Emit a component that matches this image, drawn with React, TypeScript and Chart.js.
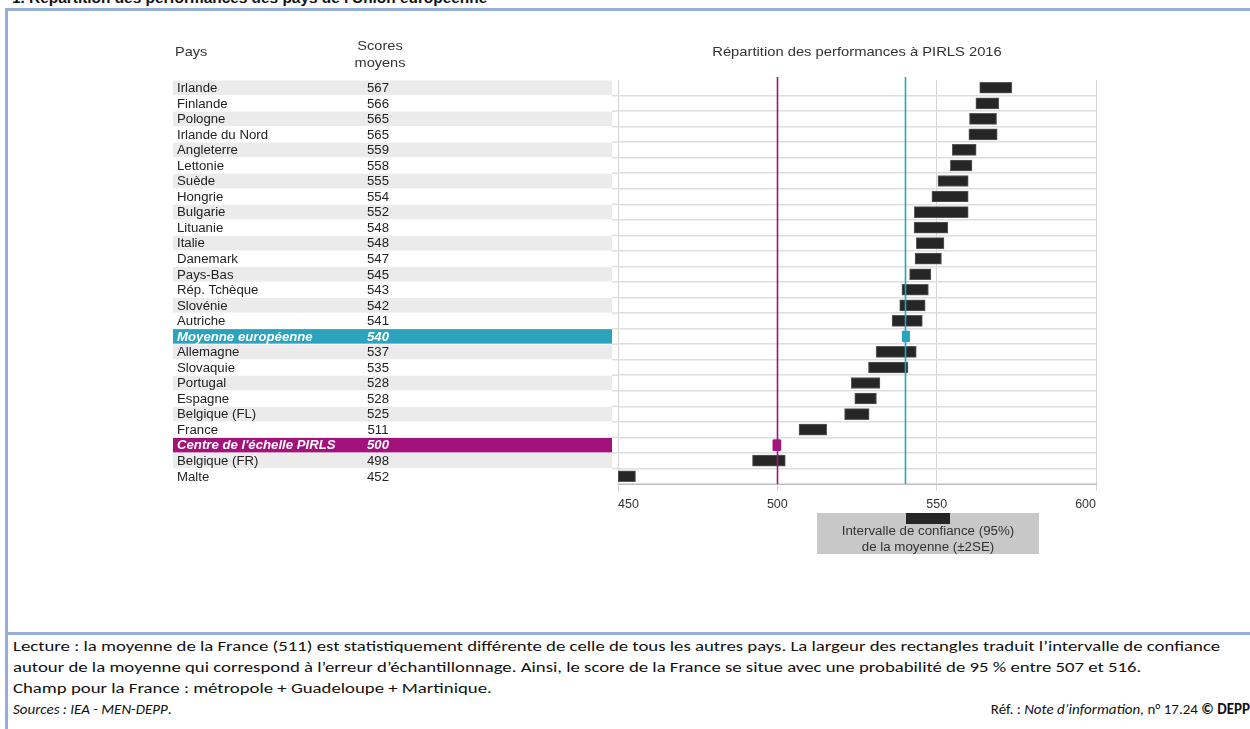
import React, { useEffect, useRef } from 'react';
import { Chart, registerables } from 'chart.js';

Chart.register(...registerables);

// ---- Data ----
const countries = [
  'Irlande', 'Finlande', 'Pologne', 'Irlande du Nord', 'Angleterre', 'Lettonie', 'Suède', 'Hongrie',
  'Bulgarie', 'Lituanie', 'Italie', 'Danemark', 'Pays-Bas', 'Rép. Tchèque', 'Slovénie', 'Autriche',
  'Moyenne européenne', 'Allemagne', 'Slovaquie', 'Portugal', 'Espagne', 'Belgique (FL)', 'France',
  "Centre de l'échelle PIRLS", 'Belgique (FR)', 'Malte',
];
const scores = [567, 566, 565, 565, 559, 558, 555, 554, 552, 548, 548, 547, 545, 543, 542, 541, 540, 537, 535, 528, 528, 525, 511, 500, 498, 452];
const ciLow = [563.5, 562.3, 560.3, 560.1, 554.9, 554.3, 550.4, 548.5, 543.0, 542.9, 543.6, 543.2, 541.5, 539.1, 538.4, 536.0, 539.4, 531.0, 528.6, 523.2, 524.3, 521.1, 506.8, 498.8, 492.2, 450];
const ciHigh = [573.6, 569.5, 568.8, 569.0, 562.4, 561.1, 559.9, 559.9, 559.9, 553.5, 552.3, 551.5, 548.2, 547.4, 546.4, 545.5, 541.3, 543.6, 541.0, 532.2, 531.1, 528.8, 515.5, 500.9, 502.5, 455.5];
// row kind: '' = country, 'eu' = European mean, 'pirls' = PIRLS scale centre
const rowKinds = ['', '', '', '', '', '', '', '', '', '', '', '', '', '', '', '', 'eu', '', '', '', '', '', '', 'pirls', '', ''];
const refValues = [500, 540];
const refKinds = ['pirls', 'eu'];
const xTicks = [450, 500, 550, 600];

// ---- Styles ----
const COLORS: Record<string, string> = { '': '#262626', eu: '#2BA3BC', pirls: '#A3117B' };
const FONT = '"Liberation Sans", Arial, Helvetica, sans-serif';
const BORDER = '#95B0D4';

function txt(ctx: CanvasRenderingContext2D, s: string, x: number, y: number, align: CanvasTextAlign, sx: number) {
  ctx.save();
  ctx.translate(x, y);
  ctx.scale(sx, 1);
  ctx.textAlign = align;
  ctx.fillText(s, 0, 0);
  ctx.restore();
}

const tablePlugin = {
  id: 'tablePlugin',
  beforeDraw(chart: any) {
    const { ctx, chartArea } = chart;
    const y = chart.scales.y;
    const band = y.getPixelForValue(1) - y.getPixelForValue(0);
    ctx.save();
    // headers
    ctx.fillStyle = '#333';
    ctx.font = `13px ${FONT}`;
    ctx.textBaseline = 'middle';
    txt(ctx, 'Pays', 175, 52, 'left', 1.12);
    txt(ctx, 'Scores', 380, 46, 'center', 1.12);
    txt(ctx, 'moyens', 380, 63, 'center', 1.12);
    txt(ctx, 'Répartition des performances à PIRLS 2016', 857, 52, 'center', 1.135);

    // rows
    let plain = 0;
    countries.forEach((name, i) => {
      const cy = y.getPixelForValue(i);
      const kind = rowKinds[i];
      let fill: string | null = null;
      if (kind) fill = COLORS[kind];
      else {
        if (plain % 2 === 0) fill = '#EBEBEB';
        plain++;
      }
      if (fill) {
        ctx.fillStyle = fill;
        ctx.fillRect(173, cy - band / 2 + 0.5, 439, band - 1);
      }
      ctx.fillStyle = kind ? '#FFFFFF' : '#222';
      ctx.font = kind ? `italic bold 12px ${FONT}` : `12px ${FONT}`;
      txt(ctx, name, 177, cy + 1, 'left', 1.1);
      txt(ctx, String(scores[i]), 378, cy + 1, 'center', 1.1);
      // short extension of the row separator towards the table
      if (i > 0) {
        ctx.strokeStyle = '#DEDEDE';
        ctx.lineWidth = 1.5;
        ctx.beginPath();
        ctx.moveTo(612, cy - band / 2);
        ctx.lineTo(chartArea.left, cy - band / 2);
        ctx.stroke();
      }
    });

    // legend box
    ctx.fillStyle = '#C8C8C8';
    ctx.fillRect(817, 513, 222, 41);
    ctx.fillStyle = '#262626';
    ctx.fillRect(906, 513, 44, 11);
    ctx.fillStyle = '#333';
    ctx.font = `12px ${FONT}`;
    txt(ctx, 'Intervalle de confiance (95%)', 928, 532, 'center', 1.11);
    txt(ctx, 'de la moyenne (±2SE)', 928, 548, 'center', 1.11);
    ctx.restore();
  },
  afterDatasetsDraw(chart: any) {
    const { ctx, chartArea } = chart;
    const x = chart.scales.x;
    ctx.save();
    refValues.forEach((v, i) => {
      const px = Math.round(x.getPixelForValue(v)) + 0.5;
      ctx.strokeStyle = COLORS[refKinds[i]];
      ctx.lineWidth = 1.6;
      ctx.beginPath();
      ctx.moveTo(px, chartArea.top - 3);
      ctx.lineTo(px, chartArea.bottom);
      ctx.stroke();
    });
    // re-draw the small marker bars on top of the lines
    const meta = chart.getDatasetMeta(0);
    rowKinds.forEach((k, i) => {
      if (!k) return;
      const el = meta.data[i];
      const { x: ex, base, y: ey, height } = el.getProps(['x', 'base', 'y', 'height'], true);
      ctx.fillStyle = COLORS[k];
      ctx.fillRect(Math.min(ex, base) - 1, ey - height / 2, Math.abs(ex - base) + 2, height);
    });
    ctx.restore();
  },
};

const footerFont = 'Carlito, Calibri, "Liberation Sans Narrow", "Open Sans", sans-serif';

export default function App() {
  const ref = useRef<HTMLCanvasElement | null>(null);
  useEffect(() => {
    document.body.style.margin = '0';
    const chart = new Chart(ref.current as HTMLCanvasElement, {
      type: 'bar',
      data: {
        labels: countries,
        datasets: [
          {
            data: countries.map((_, i) => [ciLow[i], ciHigh[i]]),
            backgroundColor: rowKinds.map((k) => COLORS[k]),
            borderColor: rowKinds.map((k) => (k ? COLORS[k] : '#5a5a5a')),
            borderWidth: 1,
            borderSkipped: false,
            barThickness: 11,
          } as any,
        ],
      },
      options: {
        indexAxis: 'y',
        animation: false,
        responsive: false,
        layout: { padding: { left: 618, right: 154, top: 80, bottom: 86 } },
        plugins: { legend: { display: false }, tooltip: { enabled: false } },
        scales: {
          x: {
            type: 'linear',
            min: xTicks[0],
            max: xTicks[xTicks.length - 1],
            afterBuildTicks: (scale: any) => {
              scale.ticks = xTicks.map((v) => ({ value: v }));
            },
            afterFit: (scale: any) => {
              scale.height = 30;
            },
            ticks: {
              align: 'inner',
              padding: 6,
              color: '#333',
              font: { size: 12.5, family: FONT },
            },
            grid: { color: '#D4D4D4', lineWidth: 1, tickLength: 7, drawTicks: true },
            border: { color: '#BDBDBD', width: 1 },
          },
          y: {
            type: 'category',
            offset: true,
            afterFit: (scale: any) => {
              scale.width = 0;
            },
            ticks: { display: false },
            grid: {
              offset: true,
              drawTicks: false,
              lineWidth: 1.5,
              color: (c: any) => (c.index === 0 ? 'rgba(0,0,0,0)' : '#DEDEDE'),
            },
            border: { display: false },
          },
        },
      } as any,
      plugins: [tablePlugin],
    });
    return () => chart.destroy();
  }, []);

  const stretched = { transform: 'scaleX(1.25)', transformOrigin: 'left center', whiteSpace: 'nowrap' as const, height: 21 };

  return (
    <div style={{ position: 'fixed', left: 0, top: 0, width: 1250, height: 729, background: '#fff', overflow: 'hidden' }}>
      <div
        style={{
          position: 'absolute', left: 12, top: -10, fontFamily: FONT, fontWeight: 'bold', fontSize: 14,
          color: '#111', whiteSpace: 'nowrap', transform: 'scaleX(1.1)', transformOrigin: 'left center',
        }}
      >
        1. Répartition des performances des pays de l'Union européenne
      </div>
      <div
        style={{
          position: 'absolute', left: 5, top: 8, width: 1260, height: 621,
          borderLeft: `3px solid ${BORDER}`, borderTop: `3px solid ${BORDER}`, borderBottom: `3px solid ${BORDER}`,
        }}
      />
      <div style={{ position: 'absolute', left: 5, top: 635, width: 3, height: 94, background: BORDER }} />
      <canvas ref={ref} width={1250} height={600} style={{ position: 'absolute', left: 0, top: 0, width: 1250, height: 600 }} />
      <div
        style={{
          position: 'absolute', left: 13, top: 636, width: 1237, fontFamily: footerFont,
          fontSize: 15, lineHeight: '21px', color: '#111', whiteSpace: 'nowrap',
        }}
      >
        <div style={stretched}>Lecture : la moyenne de la France (511) est statistiquement différente de celle de tous les autres pays. La largeur des rectangles traduit l’intervalle de confiance</div>
        <div style={stretched}>autour de la moyenne qui correspond à l’erreur d’échantillonnage. Ainsi, le score de la France se situe avec une probabilité de 95 % entre 507 et 516.</div>
        <div style={stretched}>Champ pour la France : métropole + Guadeloupe + Martinique.</div>
        <div style={{ position: 'relative', height: 21 }}>
          <span style={{ fontStyle: 'italic' }}>Sources : IEA - MEN-DEPP</span>.
          <span style={{ position: 'absolute', right: 0, top: 0 }}>
            Réf. : <span style={{ fontStyle: 'italic' }}>Note d’information,</span> n° 17.24 <b>© DEPP</b>
          </span>
        </div>
      </div>
    </div>
  );
}
